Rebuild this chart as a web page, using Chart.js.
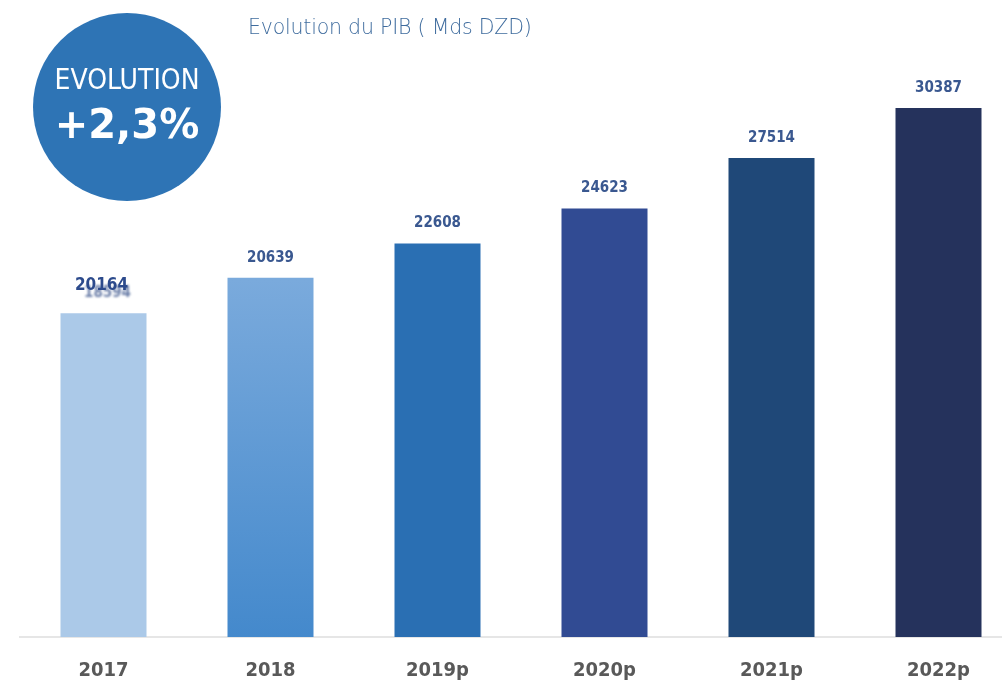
<!DOCTYPE html>
<html>
<head>
<meta charset="utf-8">
<script src="https://cdn.jsdelivr.net/npm/chart.js@4/dist/chart.umd.min.js"></script>
<style>
  html, body { margin: 0; padding: 0; background: #fff; overflow: hidden; }
  #wrap { position: relative; width: 1002px; height: 684px; overflow: hidden; }
  #box { position: absolute; left: 0; top: 0; width: 1022px; height: 701px; }
  #title { position: absolute; left: 248px; top: 15px; font: 20.5px "DejaVu Sans", sans-serif; font-weight: 300; color: #3f6c9e; letter-spacing: -0.2px; }
  #badge { position: absolute; left: 33px; top: 13px; width: 188px; height: 188px; border-radius: 50%; background: #2e74b5; color: #fff; text-align: center; }
  #badge .a { position: absolute; left: 0; right: 0; top: 50px; font: 28px "DejaVu Sans Condensed", "DejaVu Sans", sans-serif; font-weight: 300; }
  #badge .b { position: absolute; left: 0; right: 0; top: 88px; font: bold 40px "DejaVu Sans", sans-serif; }
</style>
</head>
<body>
<div id="wrap">
  <div id="box"><canvas id="pibChart"></canvas></div>
  <div id="title">Evolution du PIB ( Mds DZD)</div>
  <div id="badge"><div class="a">EVOLUTION</div><div class="b">+2,3%</div></div>
</div>
<script>
// PIB values (Mds DZD)
const years = ['2017', '2018', '2019p', '2020p', '2021p', '2022p'];
const pib = [18594, 20639, 22608, 24623, 27514, 30387];
const barLabels = ['20164', '20639', '22608', '24623', '27514', '30387'];
const ghostLabels = ['18594', '', '', '', '', ''];
const barColors = ['#abc9e8', null, '#2a6fb3', '#314b93', '#1f4878', '#25325c'];

const valueLabels = {
  id: 'valueLabels',
  afterDatasetsDraw(chart) {
    const ctx = chart.ctx;
    const meta = chart.getDatasetMeta(0);
    ctx.save();
    ctx.textAlign = 'center';
    ctx.textBaseline = 'middle';
    meta.data.forEach((bar, i) => {
      if (ghostLabels[i]) {
        ctx.filter = 'blur(1px)';
        ctx.font = 'bold 15px "DejaVu Sans Condensed", sans-serif';
        ctx.fillStyle = 'rgba(60,85,140,0.75)';
        ctx.fillText(ghostLabels[i], bar.x + 4, bar.y - 20);
        ctx.filter = 'none';
        ctx.font = 'bold 17px "DejaVu Sans Condensed", sans-serif';
        ctx.fillStyle = '#2c4a8c';
        ctx.fillText(barLabels[i], bar.x - 2, bar.y - 28);
      } else {
        ctx.filter = 'blur(0.5px)';
        ctx.font = 'bold 15px "DejaVu Sans Condensed", sans-serif';
        ctx.fillStyle = '#3a5890';
        ctx.fillText(barLabels[i], bar.x, bar.y - 20);
        ctx.filter = 'none';
      }
    });
    ctx.restore();
  }
};

new Chart(document.getElementById('pibChart'), {
  type: 'bar',
  data: {
    labels: years,
    datasets: [{
      data: pib,
      backgroundColor: (c) => {
        const i = c.dataIndex;
        if (barColors[i]) return barColors[i];
        const area = c.chart.chartArea;
        if (!area) return '#5a98d2';
        const g = c.chart.ctx.createLinearGradient(0, area.top + 200, 0, area.bottom);
        g.addColorStop(0, '#7aaadc');
        g.addColorStop(1, '#4489cc');
        return g;
      },
      categoryPercentage: 1,
      barPercentage: 0.515
    }]
  },
  options: {
    responsive: true,
    maintainAspectRatio: false,
    animation: false,
    layout: { padding: { top: 80, left: 20, right: 0, bottom: 4 } },
    plugins: { legend: { display: false }, tooltip: { enabled: false } },
    scales: {
      x: {
        grid: { display: false },
        border: { display: true, color: '#e6e6e6', width: 2 },
        ticks: {
          color: '#595959',
          padding: 14,
          font: { family: '"DejaVu Sans Condensed", sans-serif', size: 20, weight: 'bold' }
        }
      },
      y: {
        display: false,
        min: 0,
        max: 32000
      }
    }
  },
  plugins: [valueLabels]
});
</script>
</body>
</html>
